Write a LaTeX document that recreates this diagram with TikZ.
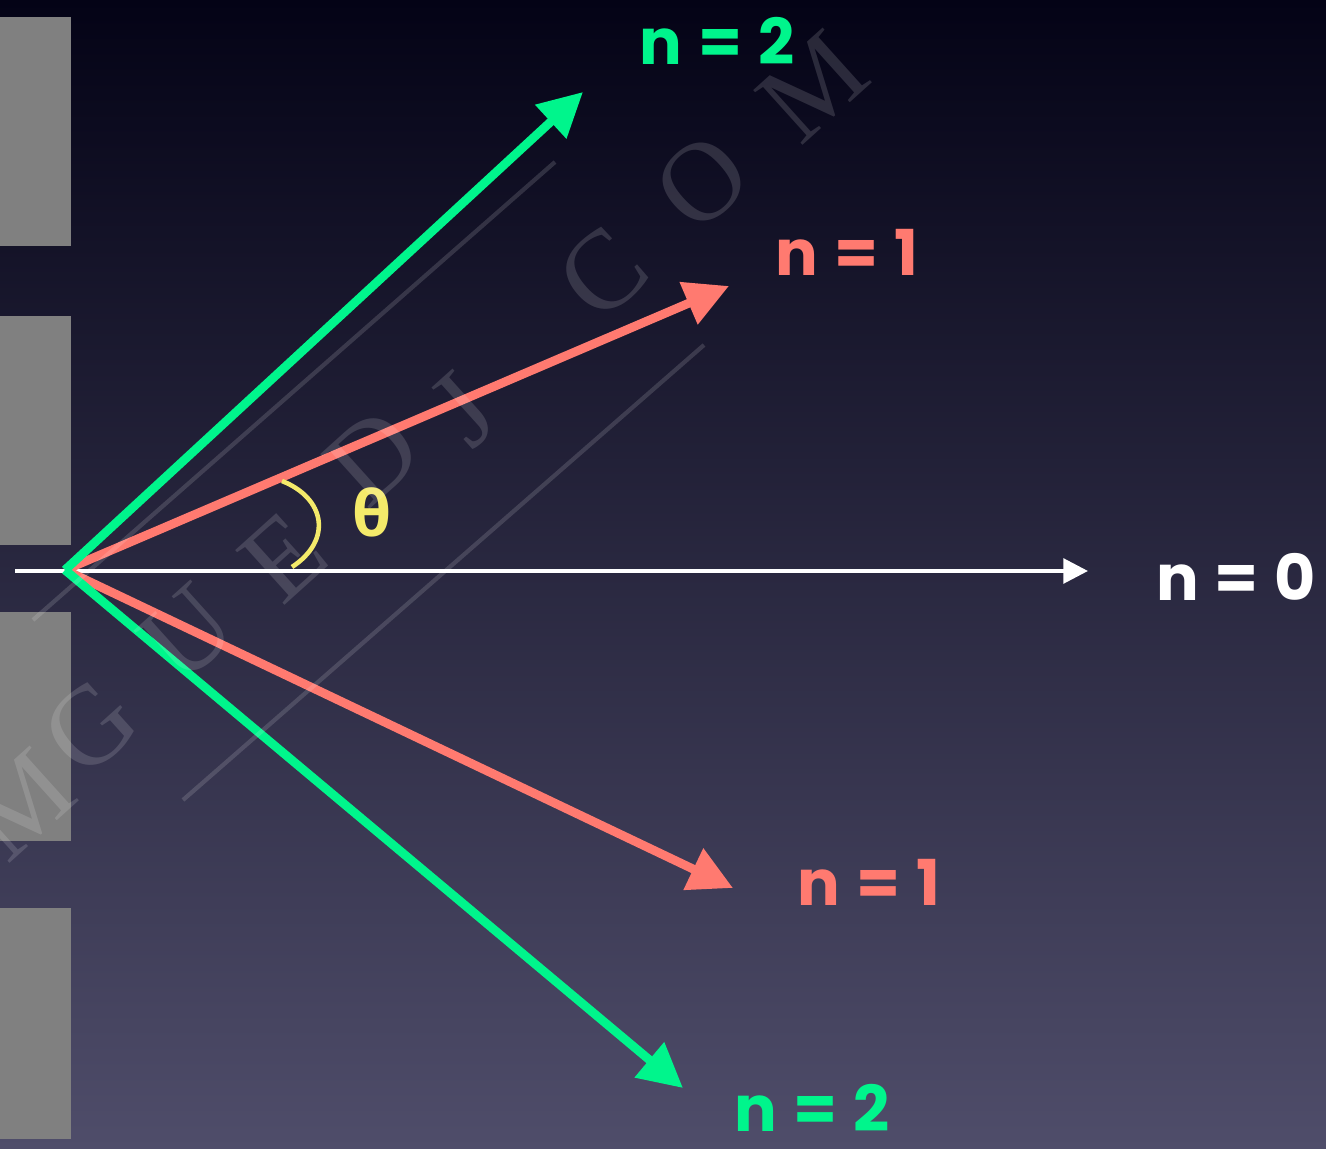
\documentclass[tikz,border=0pt]{standalone}
\usepackage{tikz}
\usetikzlibrary{arrows.meta}
\usepackage{fontspec}
\newfontfamily\lblfont{Poppins}
\newfontfamily\grkfont{Open Sans}
\newfontfamily\wmfont{Liberation Serif}
\usepackage{xcolor}
\definecolor{bgtop}{HTML}{040316}
\definecolor{bgmid}{HTML}{191842}
\definecolor{bgbot}{HTML}{4F4D6A}
\definecolor{slitgrey}{HTML}{808080}
\definecolor{ordgreen}{HTML}{00F58C}
\definecolor{ordred}{HTML}{FF7A70}
\definecolor{anglelow}{HTML}{F4EA6A}

\begin{document}
\begin{tikzpicture}[x=0.01cm, y=-0.01cm,
    ray/.style={line width=2.5pt, -{Triangle[length=12.5pt, width=12.5pt]}},
    order/.style={font=\lblfont\bfseries\fontsize{18}{20}\selectfont},
    wmark/.style={text=white, text opacity=0.14, rotate=42,
                  font=\wmfont\fontsize{32}{34}\selectfont}]
    % background and slits
    \shade[top color=bgtop, middle color=bgmid, bottom color=bgbot]
        (0,0) rectangle (1326,1149);
    \useasboundingbox (0,0) rectangle (1326,1149);
    \foreach \top/\bot in {17/246, 316/545, 612/841, 908/1139}
        \fill[slitgrey] (0,\top) rectangle (71,\bot);

    % rays
    \coordinate (o) at (65,570);
    \coordinate (w) at (15,571);
    \coordinate (t0) at (1088,571);
    \coordinate (t1u) at (729,286);
    \coordinate (t1d) at (733,888);
    \coordinate (t2u) at (583,92);
    \coordinate (t2d) at (683,1088);
    \draw[white, line width=1.1pt, -{Triangle[length=7pt, width=7pt]}] (w) -- (t0);
    \draw[ray, color=ordred] (o) -- (t1u);
    \draw[ray, color=ordred] (o) -- (t1d);
    \draw[ray, color=ordgreen] (o) -- (t2u);
    \draw[ray, color=ordgreen] (o) -- (t2d);

    % angle
    \coordinate (a1) at (282,481);
    \coordinate (a2) at (292,567);
    \draw[anglelow, line width=1.3pt] (a1) .. controls (325,498) and (333,540) .. (a2);
    \node[text=anglelow, font=\grkfont\bfseries\fontsize{18}{20}\selectfont] (theta) at (372,512) {θ};

    % labels
    \node[order, text=ordgreen] (n2u) at (717,41) {n\hspace{0.25em}=\hspace{0.25em}2};
    \node[order, text=ordred] (n1u) at (847,252) {n\hspace{0.25em}=\hspace{0.25em}1};
    \node[order, text=white] (n0) at (1236,577) {n\hspace{0.25em}=\hspace{0.25em}0};
    \node[order, text=ordred] (n1d) at (869,882) {n\hspace{0.25em}=\hspace{0.25em}1};
    \node[order, text=ordgreen] (n2d) at (812,1108) {n\hspace{0.25em}=\hspace{0.25em}2};

    % watermark
    \draw[white, opacity=0.14, line width=1.2pt] (555,162) -- (33,620);
    \draw[white, opacity=0.14, line width=1.2pt] (704,345) -- (183,800);
    \foreach \x/\y/\c in {20/805/M, 90/727/G, 187/633/U, 283/557/E, 373/457/D,
                          463/410/J, 603/273/C, 702/182/O, 813/87/M}
        \node[wmark] at (\x,\y) {\c};
\end{tikzpicture}
\end{document}
